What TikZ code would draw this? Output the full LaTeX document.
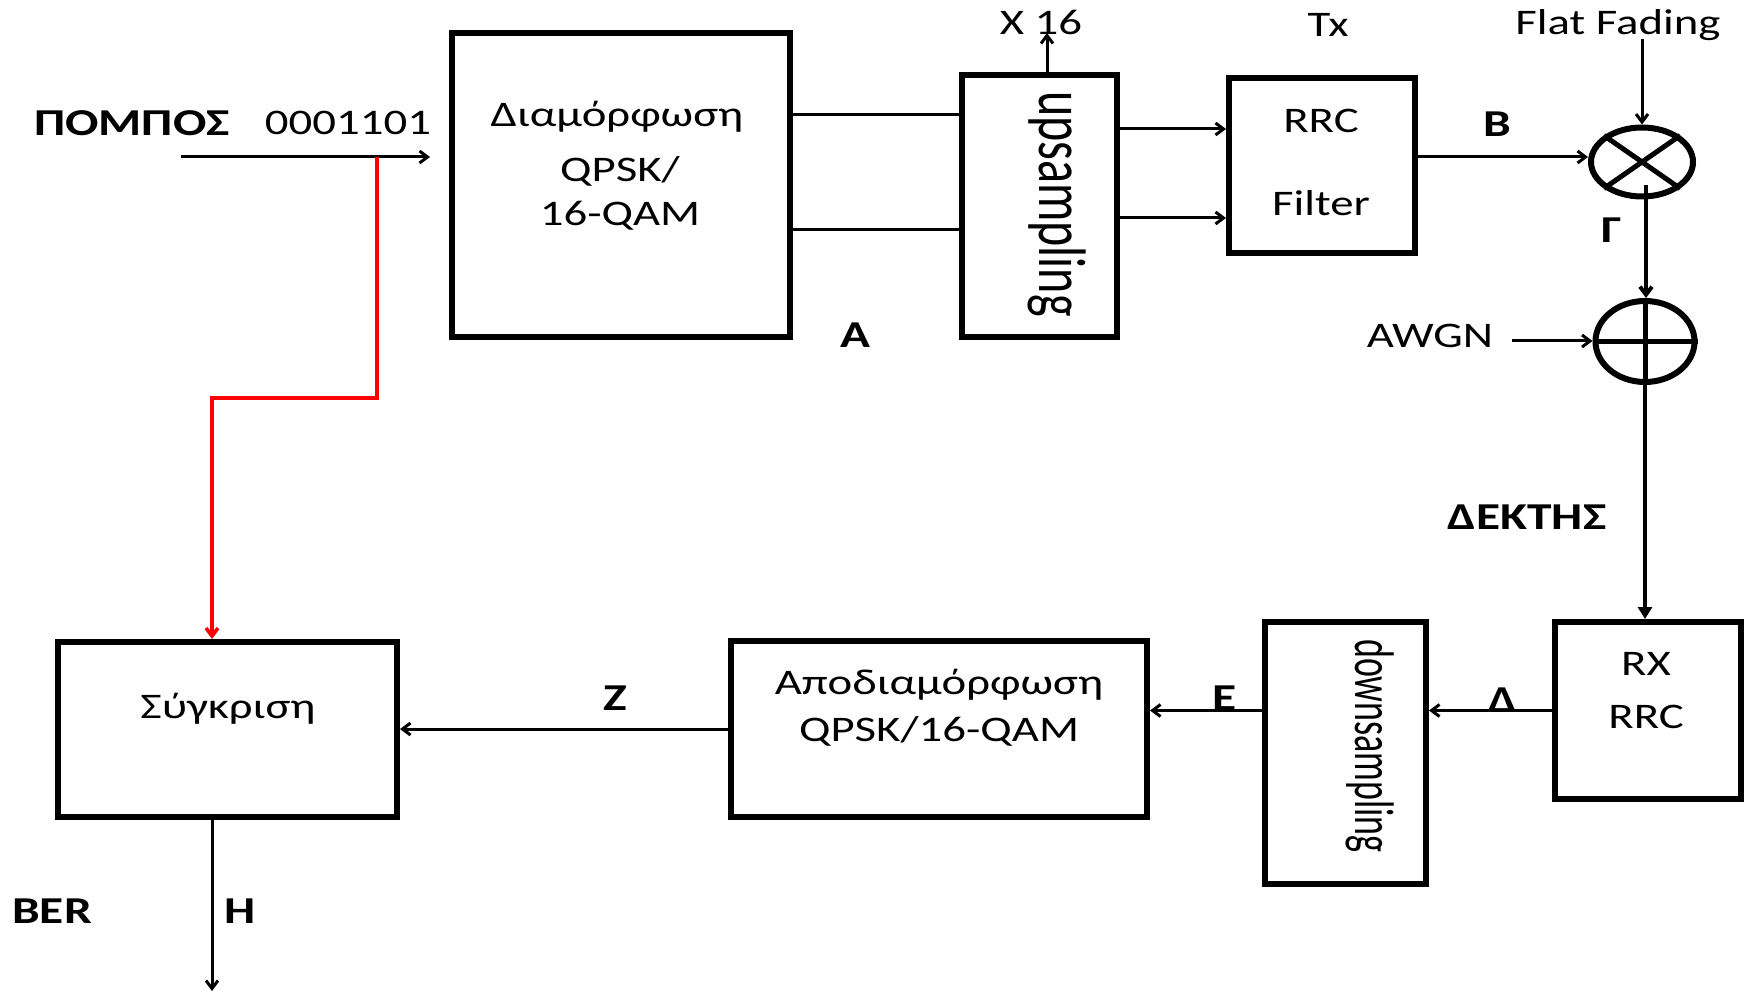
\documentclass[tikz,border=0pt]{standalone}
\usepackage{fontspec}
\setmainfont{Carlito}
\usepackage{graphicx}
\usetikzlibrary{arrows.meta,shapes.geometric}
\newcommand{\sx}[1]{\scalebox{1.3}[1]{#1}}
\begin{document}
\begin{tikzpicture}[x=0.5pt,y=-0.5pt,
  blk/.style={draw,line width=3pt,inner sep=0pt},
  ell/.style={draw,ellipse,line width=3pt,inner sep=0pt},
  txt/.style={inner sep=0pt,font=\fontsize{18}{21}\selectfont},
  btxt/.style={inner sep=0pt,font=\fontsize{19}{22}\selectfont\bfseries},
  wire/.style={line width=1.5pt},
  arr/.style={wire,-{Straight Barb[length=4pt,width=6pt]}},
  thick wire/.style={line width=2pt}]
\useasboundingbox (0,0) rectangle (1750,994);

% blocks
\node[blk,minimum width=169pt,minimum height=152pt] (mod) at (621,185) {};
\node[blk,minimum width=77.5pt,minimum height=131pt] (up) at (1039.5,206) {};
\node[blk,minimum width=93pt,minimum height=87.5pt] (rrc) at (1322,165.5) {};
\node[ell,minimum width=51pt,minimum height=34.5pt] (mult) at (1642,162) {};
\node[ell,minimum width=49.5pt,minimum height=40.5pt] (add) at (1645,341.5) {};
\node[blk,minimum width=93pt,minimum height=88.5pt] (rx) at (1648,710.5) {};
\node[blk,minimum width=80.5pt,minimum height=131pt] (down) at (1345.5,753) {};
\node[blk,minimum width=208pt,minimum height=88pt] (demod) at (939,729) {};
\node[blk,minimum width=169.5pt,minimum height=87.5pt] (comp) at (227.5,729.5) {};

\draw[line width=2.5pt] (mult.north west) -- (mult.south east) (mult.north east) -- (mult.south west);
\draw[line width=2.5pt] (add.north) -- (add.south) (add.west) -- (add.east);

% texts
\node[btxt] (pompos) at (132,123) {\sx{ΠΟΜΠΟΣ}};
\node[txt] (bits) at (348,123) {\sx{0001101}};
\node[txt] (modt1) at (617,117) {\sx{Διαμόρφωση}};
\node[txt] (modt2) at (620,171) {\sx{QPSK/}};
\node[txt] (modt3) at (620,216) {\sx{16-QAM}};
\node[btxt] (la) at (855,335) {\sx{Α}};
\node[inner sep=0pt,font=\fontsize{24}{28}\selectfont] (upt) at (1057,204) {\scalebox{1.4}[1]{\rotatebox{-90}{upsampling}}};
\node[txt] (x16t) at (1041,22) {\sx{X 16}};
\node[txt] (txt) at (1328,25) {\sx{Tx}};
\node[txt] (fft) at (1618,25) {\sx{Flat Fading}};
\node[txt] (rrct1) at (1321,121) {\sx{RRC}};
\node[txt] (rrct2) at (1321,203) {\sx{Filter}};
\node[btxt] (lb) at (1497,124) {\sx{Β}};
\node[btxt] (lg) at (1612,230) {\sx{Γ}};
\node[txt] (awgnt) at (1430,336) {\sx{AWGN}};
\node[btxt] (dekt) at (1527,517) {\sx{ΔΕΚΤΗΣ}};
\node[txt] (rxt1) at (1646,664) {\sx{RX}};
\node[txt] (rxt2) at (1646,717) {\sx{RRC}};
\node[btxt] (ld) at (1503,700) {\sx{Δ}};
\node[btxt] (le) at (1225,698) {\sx{Ε}};
\node[txt] (downt) at (1370,746) {\scalebox{1.55}[1]{\rotatebox{-90}{downsampling}}};
\node[txt] (demt1) at (939,685) {\sx{Αποδιαμόρφωση}};
\node[txt] (demt2) at (939,731) {\sx{QPSK/16-QAM}};
\node[btxt] (lz) at (615,698) {\sx{Ζ}};
\node[txt] (compt) at (228,709) {\sx{Σύγκριση}};
\node[btxt] (bert) at (52,911) {\sx{BER}};
\node[btxt] (lh) at (240,911) {\sx{Η}};

% coordinates
\coordinate (inS) at (181,157);
\coordinate (inE) at (430,157);
\coordinate (tap) at (377,157);
\coordinate (rb) at (212,398);
\coordinate (ya) at (0,115);
\coordinate (yb) at (0,230);
\coordinate (yc) at (0,129);
\coordinate (yd) at (0,218);
\coordinate (ye) at (0,157);
\coordinate (x16) at (1047,33);
\coordinate (ff) at (1642,39);
\coordinate (ms) at (1646,185);
\coordinate (aw) at (1512,341);
\coordinate (ber) at (212,991);

% connectors
\draw[arr] (inS) -- (inE);
\draw[arr,red,line width=1.8pt] (tap) |- (rb) -- (rb |- comp.north);
\draw[wire] (mod.east |- ya) -- (up.west |- ya);
\draw[wire] (mod.east |- yb) -- (up.west |- yb);
\draw[arr] (up.east |- yc) -- (rrc.west |- yc);
\draw[arr] (up.east |- yd) -- (rrc.west |- yd);
\draw[arr] (up.north -| x16) -- (x16);
\draw[arr] (rrc.east |- ye) -- (mult.west |- ye);
\draw[arr] (ff) -- (mult.north);
\draw[thick wire,-{Straight Barb[length=4pt,width=6pt]}] (ms) -- (ms |- add.north);
\draw[arr] (aw) -- (add.west |- aw);
\draw[thick wire,-{Triangle[length=6pt,width=7pt]}] (add.south) -- (add.south |- rx.north);
\draw[arr] (rx.west) -- (down.east |- rx.west);
\draw[arr] (down.west |- rx.west) -- (demod.east |- rx.west);
\draw[arr] (demod.west) -- (comp.east |- demod.west);
\draw[arr] (ber |- comp.south) -- (ber);
\end{tikzpicture}
\end{document}
